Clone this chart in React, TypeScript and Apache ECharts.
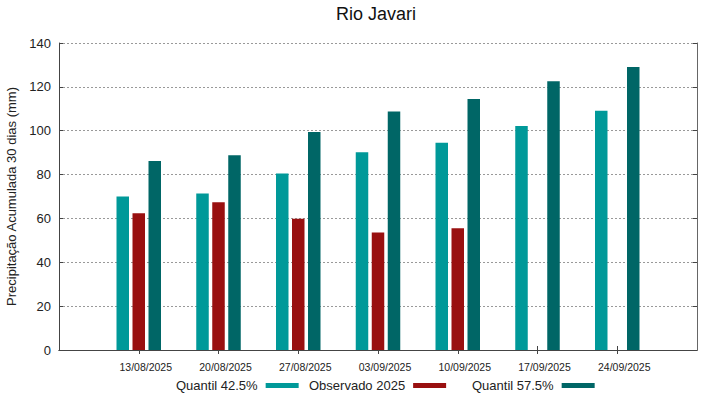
import React, { useEffect, useRef } from "react";
import * as echarts from "echarts";

const categories = ["13/08/2025", "20/08/2025", "27/08/2025", "03/09/2025", "10/09/2025", "17/09/2025", "24/09/2025"];
const quantil425 = [70.0, 71.4, 80.5, 90.2, 94.5, 102.1, 109.1];
const observado2025: (number | null)[] = [62.4, 67.4, 59.8, 53.6, 55.5, null, null];
const quantil575 = [86.2, 88.8, 99.4, 108.8, 114.5, 122.6, 129.1];
const yTicks = { min: 0, max: 140, interval: 20 };

const FONT = "'Liberation Sans', Arial, sans-serif";
const C1 = "#009999";
const C2 = "#991010";
const C3 = "#006666";

export default function App() {
  const ref = useRef<HTMLDivElement>(null);
  useEffect(() => {
    if (!ref.current) return;
    const chart = echarts.init(ref.current, undefined, { renderer: "svg" });
    const cats = ["", ...categories, ""];
    const pad = (a: (number | null)[]) => [null, ...a, null];
    const inner = (i: number) => i > 0 && i < cats.length - 1;
    const legendBase = {
      orient: "horizontal" as const,
      align: "right" as const,
      icon: "rect",
      itemWidth: 33,
      itemHeight: 5,
      padding: 0,
      top: 379,
      textStyle: { fontFamily: FONT, fontSize: 13, color: "#222", padding: [0, 3, 0, 0] },
    };
    chart.setOption({
      animation: false,
      textStyle: { fontFamily: FONT },
      title: {
        text: "Rio Javari",
        left: 336,
        top: 5,
        padding: 0,
        textStyle: { fontFamily: FONT, fontSize: 18, fontWeight: "normal", color: "#111" },
      },
      legend: [
        { ...legendBase, left: 176, data: ["Quantil 42.5%"] },
        { ...legendBase, left: 309, data: ["Observado 2025"] },
        { ...legendBase, left: 472, data: ["Quantil 57.5%"] },
      ],
      grid: { left: 59, right: 22, top: 43, bottom: 49, containLabel: false, outerBoundsMode: "none" },
      xAxis: [
        {
          type: "category",
          data: cats,
          boundaryGap: false,
          position: "bottom",
          axisLine: { lineStyle: { color: "#444", width: 1 } },
          axisTick: { inside: true, length: 4, interval: (i: number) => inner(i), lineStyle: { color: "#444" } },
          axisLabel: {
            interval: (i: number) => inner(i),
            fontFamily: FONT,
            fontSize: 10.5,
            color: "#222",
            margin: 11,
            padding: [0, 0, 0, 14],
          },
          splitLine: { show: false },
        },
        {
          type: "category",
          data: cats,
          boundaryGap: false,
          position: "top",
          axisLine: { lineStyle: { color: "#444", width: 1 } },
          axisTick: { inside: true, length: 4, interval: (i: number) => inner(i), lineStyle: { color: "#444" } },
          axisLabel: { show: false },
          splitLine: { show: false },
        },
      ],
      yAxis: [
        {
          type: "value",
          position: "left",
          min: yTicks.min,
          max: yTicks.max,
          interval: yTicks.interval,
          name: "Precipitação Acumulada 30 dias (mm)",
          nameLocation: "middle",
          nameGap: 36,
          nameTextStyle: { fontFamily: FONT, fontSize: 13, color: "#222" },
          axisLine: { show: true, lineStyle: { color: "#444", width: 1 } },
          axisTick: { show: true, inside: true, length: 4, lineStyle: { color: "#444" } },
          axisLabel: { fontFamily: FONT, fontSize: 13, color: "#222", margin: 8 },
          splitLine: { show: true, lineStyle: { type: [2, 2], color: "#999", width: 1 } },
        },
        {
          type: "value",
          position: "right",
          min: yTicks.min,
          max: yTicks.max,
          interval: yTicks.interval,
          axisLine: { show: true, lineStyle: { color: "#666", width: 1 } },
          axisTick: { show: true, inside: true, length: 4, lineStyle: { color: "#444" } },
          axisLabel: { show: false },
          splitLine: { show: false },
        },
      ],
      series: [
        {
          name: "Quantil 42.5%",
          type: "bar",
          data: pad(quantil425),
          barWidth: 12.5,
          barGap: "28%",
          itemStyle: { color: C1 },
        },
        {
          name: "Observado 2025",
          type: "bar",
          data: pad(observado2025),
          barWidth: 12.5,
          barGap: "28%",
          itemStyle: { color: C2 },
        },
        {
          name: "Quantil 57.5%",
          type: "bar",
          data: pad(quantil575),
          barWidth: 12.5,
          barGap: "28%",
          itemStyle: { color: C3 },
        },
      ],
    });
    return () => chart.dispose();
  }, []);
  return (
    <div
      ref={ref}
      style={{ position: "fixed", left: 0, top: 0, width: 719, height: 399, background: "#fff" }}
    />
  );
}
